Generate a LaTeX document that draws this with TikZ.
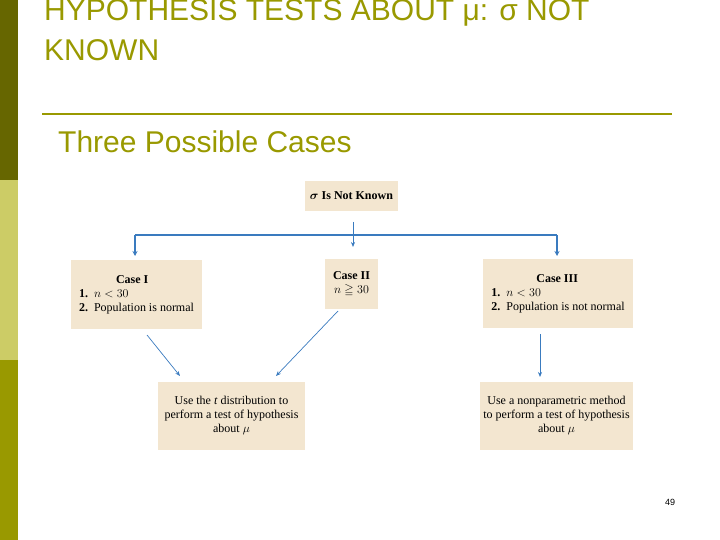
\documentclass[tikz,border=0pt]{standalone}
\usepackage{amsmath,amssymb}
\usepackage{fontspec}
\setmainfont{Liberation Serif}
\newfontfamily\sansf{Liberation Sans}
\usetikzlibrary{arrows.meta}
\definecolor{olive}{HTML}{999900}
\definecolor{darkol}{HTML}{666600}
\definecolor{lightol}{HTML}{CCCC66}
\definecolor{boxfill}{HTML}{F3E6D0}
\definecolor{arrblue}{HTML}{3A7BBF}
\begin{document}
\begin{tikzpicture}[x=1pt,y=-1pt,
  bx/.style={fill=boxfill,draw=none,inner sep=0pt,align=center,font=\fontsize{12}{14}\selectfont},
  conn/.style={draw=arrblue,-{Stealth[length=5pt,width=4pt]},line width=0.7pt},
  bar/.style={draw=arrblue,line width=1.6pt}]
\useasboundingbox (0,0) rectangle (720,540);
\fill[darkol] (0,0) rectangle (18,180);
\fill[lightol] (0,180) rectangle (18,360);
\fill[olive] (0,360) rectangle (18,540);
\node[anchor=base west,align=left,text=olive,font=\sansf\fontsize{30}{40}\selectfont,inner sep=0pt] (title) at (44,61) {HYPOTHESIS TESTS ABOUT μ: σ NOT\\KNOWN};
\draw[olive,line width=2.5pt] (42,114) -- (672,114);
\node[anchor=west,text=olive,font=\sansf\fontsize{30}{32}\selectfont,inner sep=0pt] (sub) at (58,142) {Three Possible Cases};
\node[bx,minimum width=93pt,minimum height=30pt] (top) at (351.5,196) {\textbf{$\boldsymbol\sigma$ Is Not Known}};
\node[bx,minimum width=131pt,minimum height=69pt,align=left] (c1) at (136.5,294.5) {\hspace*{37pt}\textbf{Case I}\\\textbf{1.}\ \ $n<30$\\\textbf{2.}\ \ Population is normal};
\node[bx,minimum width=53pt,minimum height=50pt] (c2) at (351.5,284) {\textbf{Case II}\\$n\geqq 30$};
\node[bx,minimum width=150pt,minimum height=69pt,align=left] (c3) at (558,293.5) {\hspace*{45pt}\textbf{Case III}\\\textbf{1.}\ \ $n<30$\\\textbf{2.}\ \ Population is not normal};
\node[bx,minimum width=147pt,minimum height=68pt] (t) at (231.5,416) {Use the \textit{t} distribution to\\perform a test of hypothesis\\about $\mu$};
\node[bx,minimum width=153pt,minimum height=68pt] (np) at (556.5,416) {Use a nonparametric method\\to perform a test of hypothesis\\about $\mu$};
\coordinate (hl) at (135,235); \coordinate (hr) at (557,235);
\draw[bar] (hl) -- (hr);
\draw[bar,-{Stealth[length=5pt,width=5pt]}] (hl) -- (135,256);
\draw[bar,-{Stealth[length=5pt,width=5pt]}] (hr) -- (557,256);
\draw[conn] (353,222) -- (353,247);
\draw[conn] (147,335) -- (180,376);
\draw[conn] (338,311) -- (276,376);
\draw[conn] (540,334) -- (540,377);
\node[font=\sansf\fontsize{9}{10}\selectfont,inner sep=0pt] (pg) at (670,502) {49};
\end{tikzpicture}
\end{document}
